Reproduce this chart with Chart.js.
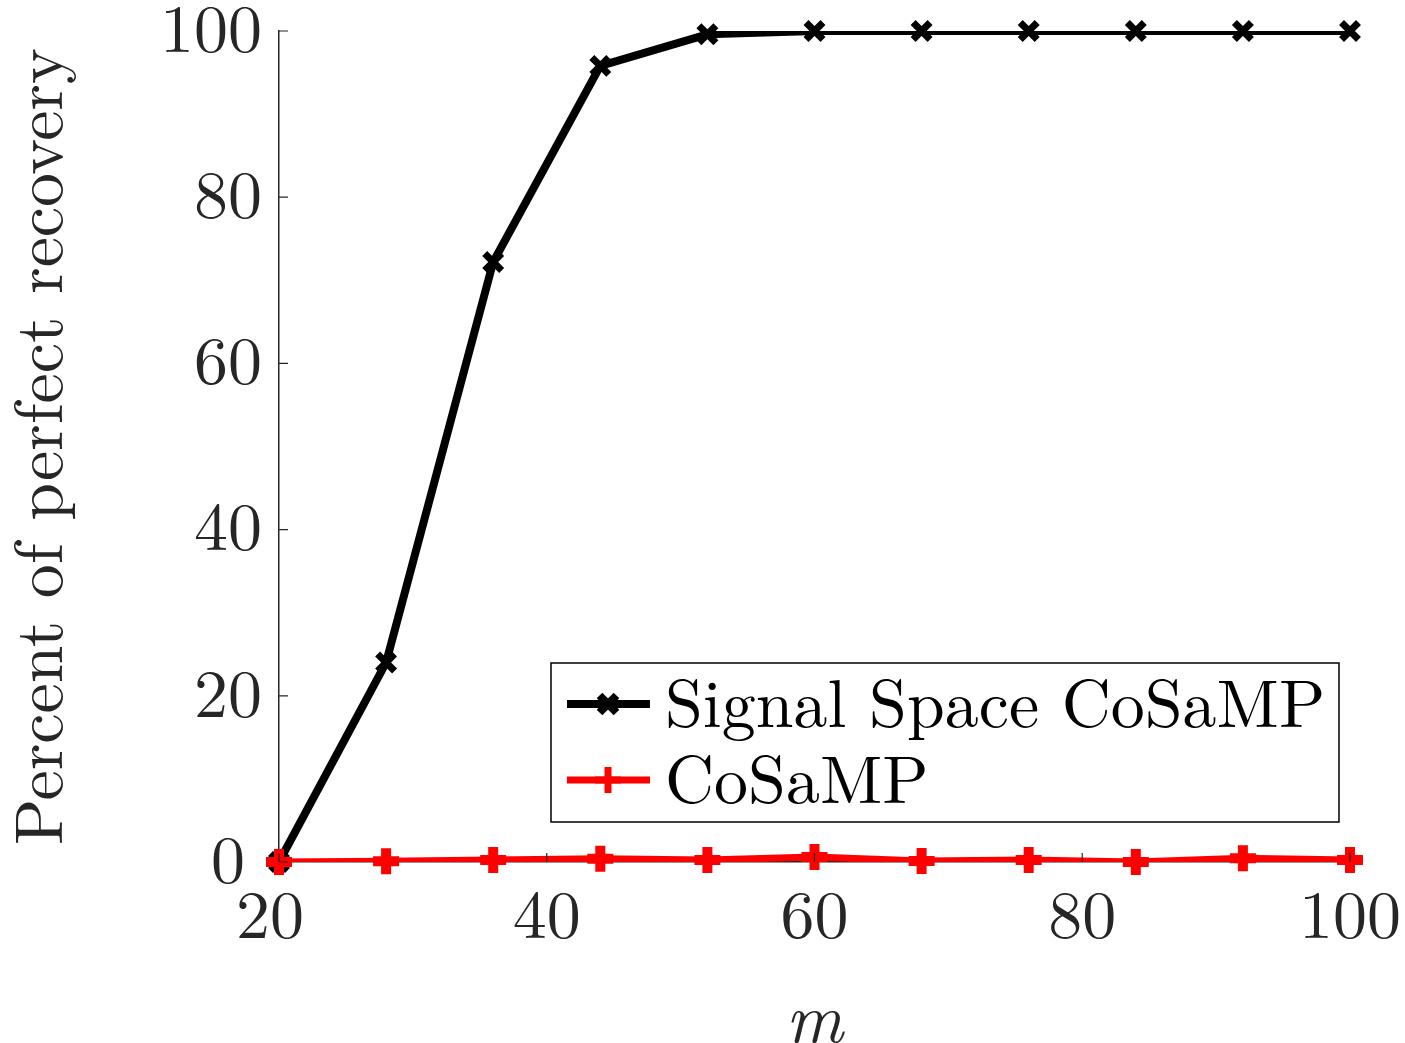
<!DOCTYPE html>
<html>
<head>
<meta charset="utf-8">
<script src="https://cdn.jsdelivr.net/npm/chart.js@4.4.1/dist/chart.umd.min.js"></script>
<style>
html,body{margin:0;padding:0;background:#fff;}
#wrap{width:1405px;height:1043px;}
</style>
</head>
<body>
<div id="wrap"><canvas id="c" width="1405" height="1043"></canvas></div>
<script>
const mValues = [20, 28, 36, 44, 52, 60, 68, 76, 84, 92, 100];
const signalSpaceCoSaMP = [0, 24, 72.2, 95.8, 99.6, 100, 100, 100, 100, 100, 100];
const coSaMP = [0, 0.1, 0.25, 0.4, 0.25, 0.6, 0.12, 0.25, 0, 0.45, 0.25];
const xTicks = [20, 40, 60, 80, 100];
const yTicks = [0, 20, 40, 60, 80, 100];
const seriesNames = ['Signal Space CoSaMP', 'CoSaMP'];
const yTitle = 'Percent of perfect recovery';
const xTitle = 'm';

const FONT = '"Latin Modern Roman", "Liberation Serif", serif';
const AXIS_COLOR = '#262626';
const HIDE = 'rgba(0,0,0,0)';

function pts(arr){ return mValues.map((m,i)=>({x:m,y:arr[i]})); }

const innerTicks = {
  id:'innerTicks',
  afterDraw(chart){
    const ctx = chart.ctx, xs = chart.scales.x, ys = chart.scales.y, a = chart.chartArea;
    ctx.save();
    ctx.strokeStyle = AXIS_COLOR; ctx.lineWidth = 1.2;
    ctx.beginPath();
    xTicks.forEach(v=>{ const p = xs.getPixelForValue(v); ctx.moveTo(p, a.bottom); ctx.lineTo(p, a.bottom-9); });
    yTicks.forEach(v=>{ const p = ys.getPixelForValue(v); ctx.moveTo(a.left, p); ctx.lineTo(a.left+9, p); });
    ctx.stroke();
    // origin labels, nudged away from the corner as in the reference
    ctx.fillStyle = AXIS_COLOR;
    ctx.font = '68px ' + FONT;
    ctx.textAlign = 'right'; ctx.textBaseline = 'middle';
    ctx.fillText(String(yTicks[0]), a.left - 34, ys.getPixelForValue(yTicks[0]));
    ctx.textAlign = 'center'; ctx.textBaseline = 'alphabetic';
    ctx.fillText(String(xTicks[0]), xs.getPixelForValue(xTicks[0]) - 9, a.bottom + 76);
    ctx.restore();
  }
};

const boxLegend = {
  id:'boxLegend',
  afterDraw(chart){
    const ctx = chart.ctx, a = chart.chartArea;
    const right = a.right - 11, bottom = a.bottom - 40;
    const w = 788, h = 159;
    const left = right - w, top = bottom - h;
    ctx.save();
    ctx.fillStyle = '#fff';
    ctx.fillRect(left, top, w, h);
    ctx.strokeStyle = '#000'; ctx.lineWidth = 1.5;
    ctx.strokeRect(left, top, w, h);
    seriesNames.forEach((name, i)=>{
      const lineDs = chart.data.datasets.find(d=>d.label===name);
      const markDs = chart.data.datasets.find(d=>d.label===name+' markers');
      const cy = top + 41 + i*76;
      ctx.strokeStyle = lineDs.borderColor; ctx.lineWidth = lineDs.borderWidth;
      ctx.beginPath(); ctx.moveTo(left+16, cy); ctx.lineTo(left+99, cy); ctx.stroke();
      ctx.strokeStyle = markDs.pointBorderColor; ctx.fillStyle = markDs.pointBorderColor;
      Chart.helpers.drawPoint(ctx, {pointStyle: markDs.pointStyle, radius: markDs.pointRadius, borderWidth: markDs.pointBorderWidth, rotation:0}, left+57, cy);
      ctx.fillStyle = '#000';
      ctx.font = '68px ' + FONT;
      ctx.textBaseline = 'middle';
      ctx.textAlign = 'left';
      ctx.fillText(name, left+114, cy + 2);
    });
    ctx.restore();
  }
};

function build(){
new Chart(document.getElementById('c'), {
  type:'line',
  data:{
    datasets:[
      {label:seriesNames[0], data:pts(signalSpaceCoSaMP), borderColor:'#000', backgroundColor:'#000',
       borderWidth:8, pointRadius:0, order:3, clip:{left:false, right:false, top:0, bottom:0}, tension:0},
      {label:seriesNames[0]+' markers', data:pts(signalSpaceCoSaMP), showLine:false, borderColor:'#000', backgroundColor:'#000',
       pointStyle:'crossRot', pointRadius:12, pointBorderWidth:7, pointBorderColor:'#000', order:2, clip:false},
      {label:seriesNames[1], data:pts(coSaMP), borderColor:'#ff0000', backgroundColor:'#ff0000',
       borderWidth:7, pointRadius:0, order:1, clip:{left:false, right:false, top:0, bottom:0}, tension:0},
      {label:seriesNames[1]+' markers', data:pts(coSaMP), showLine:false, borderColor:'#ff0000', backgroundColor:'#ff0000',
       pointStyle:'cross', pointRadius:13, pointBorderWidth:10, pointBorderColor:'#ff0000', order:0, clip:false}
    ]
  },
  options:{
    responsive:false, animation:false, devicePixelRatio:1,
    layout:{padding:{top:31, right:55, left:0, bottom:0}},
    plugins:{legend:{display:false}, tooltip:{enabled:false}},
    scales:{
      x:{type:'linear', min:20, max:100,
        afterBuildTicks(s){ s.ticks = xTicks.map(v=>({value:v})); },
        afterFit(s){ s.height = 181; s.paddingLeft = 0; s.paddingRight = 0; },
        grid:{drawOnChartArea:false, drawTicks:false},
        border:{display:true, color:AXIS_COLOR, width:1.5},
        ticks:{font:{family:FONT, size:68}, padding:14, maxRotation:0,
          color:(c)=> (c.tick && c.tick.value === xTicks[0]) ? HIDE : AXIS_COLOR},
        title:{display:true, text:xTitle, font:{family:FONT, size:70, style:'italic'}, color:AXIS_COLOR, padding:{top:0,bottom:-20}}
      },
      y:{type:'linear', min:0, max:100,
        afterBuildTicks(s){ s.ticks = yTicks.map(v=>({value:v})); },
        afterFit(s){ s.width = 279; s.paddingTop = 0; s.paddingBottom = 0; },
        grid:{drawOnChartArea:false, drawTicks:false},
        border:{display:true, color:AXIS_COLOR, width:1.5},
        ticks:{font:{family:FONT, size:68}, padding:17,
          color:(c)=> (c.tick && c.tick.value === yTicks[0]) ? HIDE : AXIS_COLOR},
        title:{display:true, text:yTitle, font:{family:FONT, size:68}, color:AXIS_COLOR, padding:{top:0,bottom:0}}
      }
    }
  },
  plugins:[innerTicks, boxLegend]
});
}
const loads = [
  document.fonts.load('68px "Latin Modern Roman"'),
  document.fonts.load('italic 70px "Latin Modern Roman"')
];
Promise.all(loads).then(build, build);
</script>
</body>
</html>
